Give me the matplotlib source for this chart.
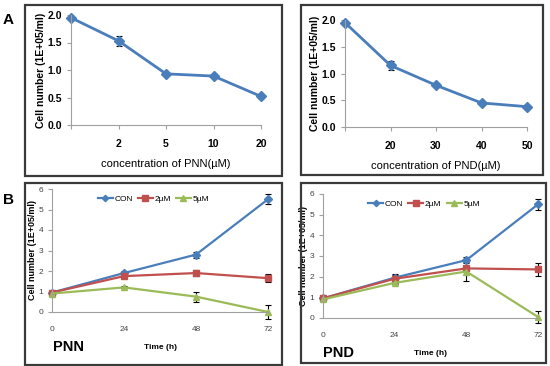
import matplotlib
matplotlib.use('Agg')
import matplotlib.pyplot as plt
from matplotlib.patches import Rectangle

plt.rcParams['font.family'] = ['Liberation Sans', 'DejaVu Sans']

# panel A data
pnn_conc_labels = ['', '2', '5', '10', '20']
pnn_cells = [1.95, 1.53, 0.93, 0.89, 0.52]
pnn_err = [0.02, 0.085, 0.03, 0.03, 0.03]

pnd_conc_labels = ['', '20', '30', '40', '50']
pnd_cells = [1.95, 1.15, 0.78, 0.45, 0.38]
pnd_err = [0.02, 0.085, 0.03, 0.02, 0.02]

# panel B data
time_h = [0, 24, 48, 72]
pnn_con = [0.95, 1.9, 2.8, 5.5]
pnn_con_err = [0.05, 0.1, 0.15, 0.25]
pnn_2um = [0.95, 1.75, 1.9, 1.65]
pnn_2um_err = [0.05, 0.1, 0.15, 0.2]
pnn_5um = [0.9, 1.2, 0.75, 0.0]
pnn_5um_err = [0.05, 0.05, 0.25, 0.35]

pnd_con = [0.95, 1.95, 2.8, 5.5]
pnd_con_err = [0.05, 0.2, 0.15, 0.25]
pnd_2um = [0.95, 1.9, 2.4, 2.35]
pnd_2um_err = [0.05, 0.2, 0.05, 0.3]
pnd_5um = [0.9, 1.7, 2.25, 0.05]
pnd_5um_err = [0.05, 0.05, 0.45, 0.3]

blue = '#4A7EBB'
red = '#C0504D'
green = '#9BBB59'
axis_gray = '#A0A0A0'

W, H = 550, 366
fig = plt.figure(figsize=(W / 100, H / 100), dpi=100)


def px_axes(x0, y0, x1, y1):
    # pixel box (top-left origin) -> figure axes
    return fig.add_axes([x0 / W, 1 - y1 / H, (x1 - x0) / W, (y1 - y0) / H])


def frame(x0, y0, x1, y1):
    fig.patches.append(Rectangle((x0 / W, 1 - y1 / H), (x1 - x0) / W, (y1 - y0) / H,
                                 transform=fig.transFigure, fill=False,
                                 edgecolor='#3a3a3a', linewidth=1.6, zorder=0))


def style_axes(ax):
    for s in ['top', 'right']:
        ax.spines[s].set_visible(False)
    for s in ['left', 'bottom']:
        ax.spines[s].set_color(axis_gray)
        ax.spines[s].set_linewidth(0.8)
    ax.tick_params(colors=axis_gray, length=3, width=0.8)


def dose_panel(box, labels, vals, errs, xlabel):
    ax = px_axes(*box)
    x = list(range(len(vals)))
    ax.errorbar(x, vals, yerr=errs, fmt='none', ecolor='black', elinewidth=0.8,
                capsize=2, capthick=0.8, clip_on=False, zorder=1)
    ax.plot(x, vals, color=blue, marker='D', markersize=5.5, linewidth=2, clip_on=False, zorder=2)
    ax.set_xlim(0, len(vals) - 1)
    ax.set_ylim(0, 2.0)
    ax.set_yticks([0, 0.5, 1.0, 1.5, 2.0])
    ax.set_yticklabels(['0.0', '0.5', '1.0', '1.5', '2.0'])
    ax.set_xticks(x)
    ax.set_xticklabels(labels)
    style_axes(ax)
    ax.tick_params(axis='x', pad=7)
    for t in ax.get_xticklabels() + ax.get_yticklabels():
        t.set_fontsize(7.5)
        t.set_fontweight('bold')
        t.set_color('black')
    ax.set_ylabel('Cell number (1E+05/ml)', fontsize=7.5, fontweight='bold', labelpad=1)
    ax.set_xlabel(xlabel, fontsize=8, labelpad=7)
    ax.patch.set_alpha(0)
    return ax


def time_panel(box, con, con_e, u2, u2_e, u5, u5_e, name, name_xy):
    ax = px_axes(*box)
    series = [(con, con_e, blue, 'D', 4, 'CON'),
              (u2, u2_e, red, 's', 5, '2µM'),
              (u5, u5_e, green, '^', 5, '5µM')]
    for vals, errs, c, m, ms, lab in series:
        ax.plot(time_h, vals, color=c, marker=m, markersize=ms, linewidth=1.6,
                label=lab, clip_on=False, zorder=2)
        ax.errorbar(time_h, vals, yerr=errs, fmt='none', ecolor='black', elinewidth=0.8,
                    capsize=2, capthick=0.8, clip_on=False, zorder=1)
    ax.set_xlim(0, 72)
    ax.set_ylim(0, 6)
    ax.set_xticks(time_h)
    ax.set_yticks(range(7))
    style_axes(ax)
    ax.tick_params(axis='x', pad=10, length=0)
    for t in ax.get_xticklabels() + ax.get_yticklabels():
        t.set_fontsize(6)
        t.set_color('#444444')
    ax.set_ylabel('Cell number (1E+05/ml)', fontsize=6.5, fontweight='bold', labelpad=1)
    ax.set_xlabel('Time (h)', fontsize=6, fontweight='bold', labelpad=8)
    ax.legend(loc='upper center', bbox_to_anchor=(0.47, 0.98), ncol=3, frameon=False,
              fontsize=6, handlelength=1.8, handletextpad=0.2, columnspacing=0.6,
              borderaxespad=0, markerscale=0.8)
    fig.text(name_xy[0] / W, 1 - name_xy[1] / H, name, fontsize=10.5, fontweight='bold',
             va='center', ha='left')
    ax.patch.set_alpha(0)
    return ax


frame(25, 5, 282, 176)
frame(301, 5, 543, 175)
frame(25, 183, 282, 365)
frame(301, 183, 546, 363)

dose_panel((71, 15, 261, 125), pnn_conc_labels, pnn_cells, pnn_err, 'concentration of PNN(µM)')
dose_panel((345, 20, 527, 127), pnd_conc_labels, pnd_cells, pnd_err, 'concentration of PND(µM)')
time_panel((52, 189, 268, 312), pnn_con, pnn_con_err, pnn_2um, pnn_2um_err,
           pnn_5um, pnn_5um_err, 'PNN', (53, 347))
time_panel((323, 194, 538, 318), pnd_con, pnd_con_err, pnd_2um, pnd_2um_err,
           pnd_5um, pnd_5um_err, 'PND', (323, 353))

fig.text(3 / W, 1 - 20 / H, 'A', fontsize=11, fontweight='bold', va='center')
fig.text(3 / W, 1 - 200 / H, 'B', fontsize=11, fontweight='bold', va='center')

fig.savefig('out.png', dpi=100)
